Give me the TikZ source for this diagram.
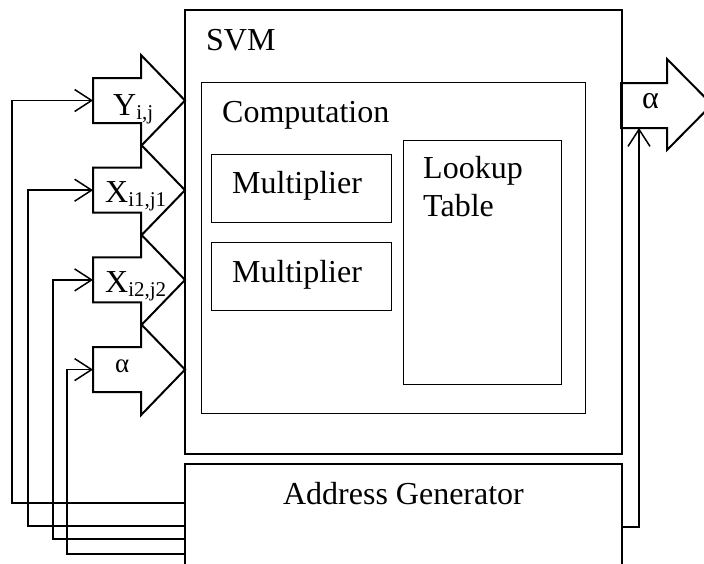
\documentclass[tikz,border=0pt]{standalone}
\usepackage{fontspec}
\setmainfont{Liberation Serif}
\usetikzlibrary{arrows.meta}
\newcommand\subtxt[1]{\raisebox{-4.5pt}{\fontsize{21}{21}\selectfont #1}}
\begin{document}
\begin{tikzpicture}[x=1pt,y=-1pt,
  outerbox/.style={draw, line width=1.6pt, rectangle, anchor=north west, inner sep=0pt, outer sep=0pt},
  innerbox/.style={draw, line width=0.9pt, rectangle, anchor=north west, inner sep=0pt, outer sep=0pt},
  txt/.style={inner sep=0pt, anchor=base west, font=\fontsize{32}{38}\selectfont},
  port/.style={draw, line width=2pt, line join=miter},
  conn/.style={draw, line width=1.5pt, -{Straight Barb[length=17pt,width=22pt,line width=1.5pt]}}
]
\useasboundingbox (0,0) rectangle (704,563);

% SVM and inner boxes
\node[outerbox, minimum width=437pt, minimum height=444pt] (svm) at (185,10) {};
\node[innerbox, minimum width=384pt, minimum height=331pt] (comp) at (201,82) {};
\node[innerbox, minimum width=180pt, minimum height=68pt] (mul1) at (211,154) {};
\node[innerbox, minimum width=180pt, minimum height=68pt] (mul2) at (211,242) {};
\node[innerbox, minimum width=158pt, minimum height=244pt] (lut) at (403,140) {};
\node[outerbox, line width=1.2pt, minimum width=437pt, minimum height=160pt] (ag) at (185,464) {};

\node[txt] (svmtxt) at (206,50) {SVM};
\node[txt] (comptxt) at (222,122) {Computation};
\node[txt] (mul1txt) at (232,193) {Multiplier};
\node[txt] (mul2txt) at (232,282) {Multiplier};
\node[txt] (luttxtA) at (423,178) {Lookup};
\node[txt] (luttxtB) at (423,216) {Table};
\node[txt, anchor=base] (agtxt) at (403.5,504) {Address Generator};

% input ports
\newcommand\inport[2]{%
  \draw[port] (93,#2-22.5) -- (141,#2-22.5) -- (141,#2-45.5) -- (185,#2)
    -- (141,#2+45.5) -- (141,#2+22.5) -- (93,#2+22.5) -- cycle;
  \coordinate (#1) at (93,#2);}
\inport{py}{100.5}
\inport{px1}{190.2}
\inport{px2}{279.9}
\inport{pa}{369.6}

\node[txt] (pytxt) at (113,115) {Y\subtxt{i,j}};
\node[txt] (px1txt) at (105,202) {X\subtxt{i1,j1}};
\node[txt] (px2txt) at (105,292) {X\subtxt{i2,j2}};
\node[txt, font=\fontsize{27}{30}\selectfont] (patxt) at (115,372) {α};

% output port
\draw[port] (621,83) -- (667,83) -- (667,59) -- (712,104.5) -- (667,150)
  -- (667,128) -- (621,128) -- cycle;
\coordinate (pout) at (639,128);
\node[txt] (pouttxt) at (642,108) {α};

% connectors
\draw[conn] (ag.west |- 0,503) -- (12,503) |- (py);
\draw[conn] (ag.west |- 0,526) -- (28,526) |- (px1);
\draw[conn] (ag.west |- 0,539) -- (53,539) |- (px2);
\draw[conn] (ag.west |- 0,554) -- (67,554) |- (pa);
\draw[conn] (ag.east |- 0,527) -| (pout);
\end{tikzpicture}
\end{document}
